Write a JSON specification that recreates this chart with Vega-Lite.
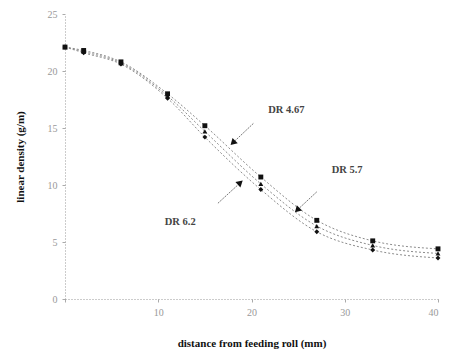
{
  "$schema": "https://vega.github.io/schema/vega-lite/v6.json",
  "width": 373,
  "height": 285,
  "autosize": {"type": "none"},
  "padding": {"left": 65, "top": 14, "right": 11, "bottom": 57},
  "background": "white",
  "config": {
    "view": {"stroke": null},
    "font": "Liberation Serif",
    "axis": {
      "grid": false,
      "domainColor": "#999999",
      "domainDash": [1, 2],
      "tickColor": "#aaaaaa",
      "tickSize": 3,
      "labelColor": "#999999",
      "labelFont": "Liberation Serif",
      "labelFontSize": 10,
      "titleFont": "Liberation Serif",
      "titleFontSize": 11,
      "titleFontWeight": "bold",
      "titleColor": "#111111"
    }
  },
  "datasets": {
    "curves": [
      {"series": "DR 4.67", "distance": 0, "density": 22.1},
      {"series": "DR 4.67", "distance": 2, "density": 21.8},
      {"series": "DR 4.67", "distance": 6, "density": 20.8},
      {"series": "DR 4.67", "distance": 11, "density": 18.0},
      {"series": "DR 4.67", "distance": 15, "density": 15.2},
      {"series": "DR 4.67", "distance": 21, "density": 10.7},
      {"series": "DR 4.67", "distance": 27, "density": 6.9},
      {"series": "DR 4.67", "distance": 33, "density": 5.1},
      {"series": "DR 4.67", "distance": 40, "density": 4.4},
      {"series": "DR 5.7", "distance": 0, "density": 22.1},
      {"series": "DR 5.7", "distance": 2, "density": 21.7},
      {"series": "DR 5.7", "distance": 6, "density": 20.7},
      {"series": "DR 5.7", "distance": 11, "density": 17.8},
      {"series": "DR 5.7", "distance": 15, "density": 14.7},
      {"series": "DR 5.7", "distance": 21, "density": 10.1},
      {"series": "DR 5.7", "distance": 27, "density": 6.4},
      {"series": "DR 5.7", "distance": 33, "density": 4.7},
      {"series": "DR 5.7", "distance": 40, "density": 4.0},
      {"series": "DR 6.2", "distance": 0, "density": 22.1},
      {"series": "DR 6.2", "distance": 2, "density": 21.6},
      {"series": "DR 6.2", "distance": 6, "density": 20.6},
      {"series": "DR 6.2", "distance": 11, "density": 17.6},
      {"series": "DR 6.2", "distance": 15, "density": 14.2},
      {"series": "DR 6.2", "distance": 21, "density": 9.6},
      {"series": "DR 6.2", "distance": 27, "density": 5.9},
      {"series": "DR 6.2", "distance": 33, "density": 4.3},
      {"series": "DR 6.2", "distance": 40, "density": 3.6}
    ],
    "notes": [
      {"label": "DR 4.67", "lx": 21.8, "ly": 16.6, "sx": 20.2, "sy": 15.4, "tx": 18.0, "ty": 13.7},
      {"label": "DR 5.7", "lx": 28.6, "ly": 11.3, "sx": 27.0, "sy": 9.4, "tx": 24.9, "ty": 7.8},
      {"label": "DR 6.2", "lx": 10.7, "ly": 6.75, "sx": 16.4, "sy": 8.4, "tx": 18.8, "ty": 10.2}
    ]
  },
  "layer": [
    {
      "data": {"name": "curves"},
      "mark": {"type": "line", "interpolate": "monotone", "color": "#8c8c8c", "strokeWidth": 1, "strokeDash": [2, 2]},
      "encoding": {
        "x": {"field": "distance", "type": "quantitative", "scale": {"domain": [0, 40], "nice": false},
          "axis": {"values": [0, 10, 20, 30, 40], "labelExpr": "datum.value == 0 ? '' : datum.label", "title": "distance from feeding roll (mm)", "labelPadding": 5, "titlePadding": 20}},
        "y": {"field": "density", "type": "quantitative", "scale": {"domain": [0, 25], "nice": false},
          "axis": {"values": [0, 5, 10, 15, 20, 25], "title": "linear density (g/m)", "labelPadding": 5, "titlePadding": 22}},
        "detail": {"field": "series"}
      }
    },
    {
      "data": {"name": "curves"},
      "mark": {"type": "point", "filled": true, "color": "#111111", "size": 24, "opacity": 1},
      "encoding": {
        "x": {"field": "distance", "type": "quantitative"},
        "y": {"field": "density", "type": "quantitative"},
        "shape": {"field": "series", "type": "nominal", "scale": {"range": ["square", "triangle-up", "diamond"]}, "legend": null}
      }
    },
    {
      "data": {"name": "notes"},
      "mark": {"type": "rule", "color": "#777777", "strokeWidth": 1, "strokeDash": [2, 1]},
      "encoding": {
        "x": {"field": "sx", "type": "quantitative"},
        "y": {"field": "sy", "type": "quantitative"},
        "x2": {"field": "tx"},
        "y2": {"field": "ty"}
      }
    },
    {
      "data": {"name": "notes"},
      "transform": [{"filter": "datum.label != 'DR 6.2'"}],
      "mark": {"type": "point", "shape": "triangle-up", "filled": true, "color": "#111111", "size": 55, "angle": 225, "opacity": 1},
      "encoding": {
        "x": {"field": "tx", "type": "quantitative"},
        "y": {"field": "ty", "type": "quantitative"}
      }
    },
    {
      "data": {"name": "notes"},
      "transform": [{"filter": "datum.label == 'DR 6.2'"}],
      "mark": {"type": "point", "shape": "triangle-up", "filled": true, "color": "#111111", "size": 55, "angle": 48, "opacity": 1},
      "encoding": {
        "x": {"field": "tx", "type": "quantitative"},
        "y": {"field": "ty", "type": "quantitative"}
      }
    },
    {
      "data": {"name": "notes"},
      "mark": {"type": "text", "align": "left", "baseline": "middle", "font": "Liberation Serif", "fontSize": 10.5, "fontWeight": "bold", "color": "#444444"},
      "encoding": {
        "x": {"field": "lx", "type": "quantitative"},
        "y": {"field": "ly", "type": "quantitative"},
        "text": {"field": "label"}
      }
    }
  ]
}
